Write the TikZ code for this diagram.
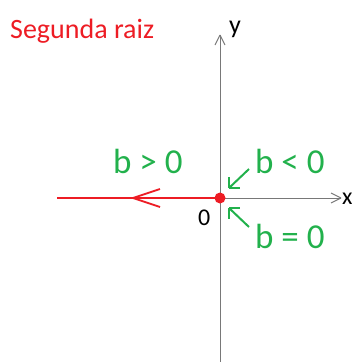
\documentclass[tikz,border=0pt]{standalone}
\usepackage{fontspec}
\setmainfont{Carlito}
\definecolor{pgreen}{RGB}{34,177,76}
\definecolor{pred}{RGB}{237,28,36}
\definecolor{pgray}{RGB}{120,120,120}
\begin{document}
\begin{tikzpicture}[x=1pt,y=-1pt,
  axis/.style={draw=pgray,line width=1pt},
  lbl/.style={inner sep=0pt,anchor=base west},
  garrow/.style={draw=pgreen,line width=2pt},
  ]
\useasboundingbox (0,0) rectangle (352,362);
\coordinate (O) at (220,198);
\coordinate (ytop) at (220,35);
\coordinate (ybot) at (220,362);
\coordinate (xend) at (341,198);
\coordinate (rleft) at (57,198);
\draw[axis] (ybot) -- (ytop);
\draw[axis] (ytop) -- ++(-5,10);
\draw[axis] (ytop) -- ++(5,10);
\draw[axis] (O) -- (xend);
\draw[axis] (xend) -- ++(-10,-5);
\draw[axis] (xend) -- ++(-10,5);
\draw[pred,line width=2pt] (rleft) -- (O);
\coordinate (rtip) at (133,198);
\draw[pred,line width=1.8pt] (rtip) -- (160,189);
\draw[pred,line width=1.8pt] (rtip) -- (160,207);
\node[circle,fill=pred,minimum size=11pt,inner sep=0pt] (dot) at (O) {};
\node[lbl,text=pred,font=\fontsize{28}{28}\selectfont] (title) at (10,38) {Segunda raiz};
\node[lbl,font=\fontsize{26}{26}\selectfont] (ylab) at (229,33) {y};
\node[lbl,font=\fontsize{24}{24}\selectfont] (xlab) at (342,204) {x};
\node[lbl,font=\fontsize{24}{24}\selectfont] (zero) at (198,225) {0};
\node[lbl,text=pgreen,font=\fontsize{35}{35}\selectfont] (bgt) at (113,173) {b > 0};
\node[lbl,text=pgreen,font=\fontsize{35}{35}\selectfont] (blt) at (255,173) {b < 0};
\node[lbl,text=pgreen,font=\fontsize{35}{35}\selectfont] (beq) at (255,248) {b = 0};
\coordinate (g1s) at (249,169);
\coordinate (g1e) at (229,188);
\coordinate (g2s) at (249,227);
\coordinate (g2e) at (229,208);
\draw[garrow] (g1s) -- (g1e);
\draw[garrow] (g1e) -- ++(0,-11);
\draw[garrow] (g1e) -- ++(11,0);
\draw[garrow] (g2s) -- (g2e);
\draw[garrow] (g2e) -- ++(0,11);
\draw[garrow] (g2e) -- ++(11,0);
\end{tikzpicture}
\end{document}
